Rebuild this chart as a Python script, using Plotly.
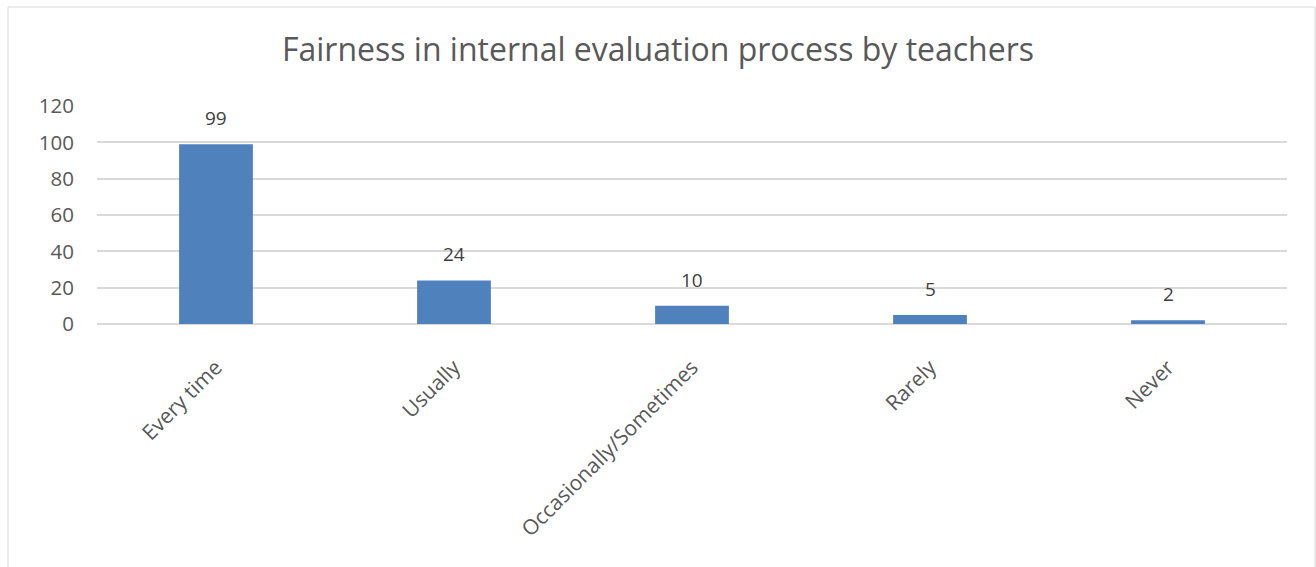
import plotly.graph_objects as go

categories = ["Every time", "Usually", "Occasionally/Sometimes", "Rarely", "Never"]
values = [99, 24, 10, 5, 2]
y_ticks = [0, 20, 40, 60, 80, 100, 120]
title_text = "Fairness in internal evaluation process by teachers"

W, H = 1316, 567
L, R, T, B = 97, 29, 106, 243
pw, ph = W - L - R, H - T - B

FONT = "Open Sans"
fig = go.Figure()
fig.add_trace(go.Bar(
    x=categories, y=values,
    marker=dict(color="#4F81BD", line=dict(width=0)),
    width=0.31,
    hoverinfo="skip",
))

for c, v in zip(categories, values):
    fig.add_annotation(x=c, y=v, text=str(v), showarrow=False,
                       yanchor="middle", yshift=26,
                       font=dict(family=FONT, size=19, color="#404040"))

# chart border
fig.add_shape(type="rect", xref="paper", yref="paper",
              x0=(8 - L) / pw, x1=(1315 - L) / pw,
              y0=-(H + 20 - T - ph) / ph, y1=(H - 7 - B) / ph,
              line=dict(color="#D9D9D9", width=1), fillcolor="rgba(0,0,0,0)", layer="below")

fig.update_layout(
    width=W, height=H,
    margin=dict(l=L, r=R, t=T, b=B, autoexpand=False),
    paper_bgcolor="white", plot_bgcolor="white",
    showlegend=False,
    title=dict(text=title_text, x=0.5, xref="container", xanchor="center",
               y=1 - 50 / H, yref="container", yanchor="middle",
               font=dict(family=FONT, size=32, color="#595959")),
    xaxis=dict(tickangle=-45, showgrid=False, showline=False, ticks="",
               ticklabelstandoff=26,
               tickfont=dict(family=FONT, size=21, color="#595959")),
    yaxis=dict(range=[0, 120], tickvals=y_ticks, showgrid=True,
               gridcolor="#D9D9D9", gridwidth=1.5, zeroline=True,
               zerolinecolor="#D9D9D9", zerolinewidth=2, ticks="",
               ticklabelstandoff=22,
               tickfont=dict(family=FONT, size=20.5, color="#595959")),
    font=dict(family=FONT),
)

fig.write_html("out.html", config={"displayModeBar": False},
               post_script="document.body.style.margin='0';")
